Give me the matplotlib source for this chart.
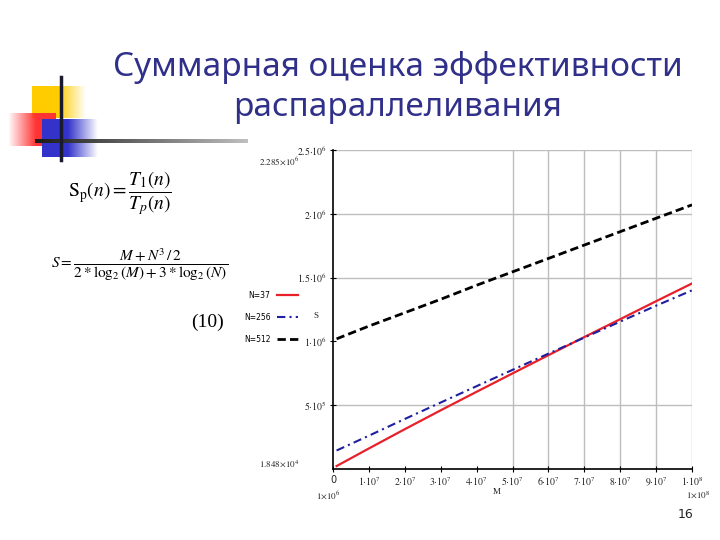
import numpy as np
import matplotlib.pyplot as plt

plt.rcParams["font.family"] = "DejaVu Sans"
plt.rcParams["mathtext.fontset"] = "stix"

# values
m_vals = [1e6, 1e7, 2e7, 3e7, 4e7, 5e7, 6e7, 7e7, 8e7, 9e7, 1e8]
s_n37 = [2.3e4, 1.61e5, 3.12e5, 4.60e5, 6.05e5, 7.49e5, 8.92e5, 1.034e6, 1.174e6, 1.315e6, 1.454e6]
s_n256 = [1.45e5, 2.61e5, 3.92e5, 5.21e5, 6.49e5, 7.77e5, 9.04e5, 1.030e6, 1.155e6, 1.280e6, 1.400e6]
s_n512 = [1.02e6, 1.12e6, 1.225e6, 1.33e6, 1.44e6, 1.545e6, 1.65e6, 1.755e6, 1.86e6, 1.965e6, 2.07e6]
series_labels = ["N=37", "N=256", "N=512"]

x_ticks = [0, 1e7, 2e7, 3e7, 4e7, 5e7, 6e7, 7e7, 8e7, 9e7, 1e8]
x_ticklabels = ["0", r"$1{\cdot}10^7$", r"$2{\cdot}10^7$", r"$3{\cdot}10^7$", r"$4{\cdot}10^7$",
                r"$5{\cdot}10^7$", r"$6{\cdot}10^7$", r"$7{\cdot}10^7$", r"$8{\cdot}10^7$",
                r"$9{\cdot}10^7$", r"$1{\cdot}10^8$"]
y_ticks = [5e5, 1e6, 1.5e6, 2e6, 2.5e6]
y_ticklabels = [r"$5{\cdot}10^5$", r"$1{\cdot}10^6$", r"$1.5{\cdot}10^6$", r"$2{\cdot}10^6$", r"$2.5{\cdot}10^6$"]
x_grid = [5e7, 6e7, 7e7, 8e7, 9e7, 1e8]
y_grid = [5e5, 1.5e6, 2e6, 2.5e6]

fig = plt.figure(figsize=(7.2, 5.4), dpi=100)

# slide background layer in pixel coordinates
bg = fig.add_axes([0, 0, 1, 1], zorder=0)
bg.axis("off")

def fade_box(x0, x1, y0, y1, rgb, solid_from, solid_to):
    xs = np.linspace(x0, x1, 200)
    a = np.ones_like(xs)
    if solid_from > x0:
        a = np.where(xs < solid_from, (xs - x0) / (solid_from - x0), a)
    if solid_to < x1:
        a = np.where(xs > solid_to, 1 - (xs - solid_to) / (x1 - solid_to), a)
    img = np.zeros((1, 200, 4))
    img[..., :3] = rgb
    img[0, :, 3] = np.clip(a, 0, 1)
    bg.imshow(img, extent=(x0, x1, y1, y0), aspect="auto", interpolation="bilinear")

fade_box(32, 86, 86, 118, (1.0, 0.80, 0.0), 32, 58)
fade_box(8, 56, 113, 146, (1.0, 0.2, 0.2), 36, 56)
fade_box(42, 98, 119, 157, (0.2, 0.2, 0.8), 42, 68)

grad = np.zeros((1, 200, 4))
grad[0, :, :3] = np.linspace(0.1, 0.75, 200)[:, None]
grad[0, :, 3] = 1
bg.imshow(grad, extent=(35, 248, 143, 139), aspect="auto")
bg.plot([61, 61], [77, 160], color="#1a1a2e", lw=2.5)
bg.set_xlim(0, 720)
bg.set_ylim(540, 0)

title_color = "#30308a"
bg.text(398, 68, "Суммарная оценка эффективности", ha="center", va="center",
        fontsize=24, color=title_color, family="Noto Sans")
bg.text(398, 108, "распараллеливания", ha="center", va="center",
        fontsize=24, color=title_color, family="Noto Sans")

bg.text(120, 193, r"$\mathrm{S}_{\mathrm{p}}(n)=\dfrac{T_1(n)}{T_p(n)}$", ha="center", va="center", fontsize=14)
bg.text(140, 265, r"$S=\dfrac{M+N^3\,/\,2}{2*\log_2(M)+3*\log_2(N)}$", ha="center", va="center", fontsize=11)
bg.text(208, 322, "(10)", ha="center", va="center", fontsize=14, family="Liberation Serif")
bg.text(686, 514, "16", ha="center", va="center", fontsize=9, color="#222222")

small = dict(fontsize=6.5, family="Liberation Serif", color="#222222")
bg.text(279, 161, r"$2.285{\times}10^6$", ha="center", va="center", **small)
bg.text(279, 464, r"$1.848{\times}10^4$", ha="center", va="center", **small)
bg.text(328, 495, r"$1{\times}10^6$", ha="center", va="center", **small)
bg.text(698, 495, r"$1{\times}10^8$", ha="center", va="center", **small)
bg.text(316, 316, "S", ha="center", va="center", **small)
bg.text(497, 492, "M", ha="center", va="center", **small)

# chart
ax = fig.add_axes([333 / 720, 1 - 469 / 540, (692 - 333) / 720, (469 - 150) / 540], zorder=2)
ax.patch.set_alpha(0)
for yv in y_grid:
    ax.axhline(yv, color="#bdbdbd", lw=1, zorder=1)
for xv in x_grid:
    ax.axvline(xv, color="#bdbdbd", lw=1, zorder=1)

l1, = ax.plot(m_vals, s_n37, color="#e8202a", lw=1.6, zorder=3)
l2, = ax.plot(m_vals, s_n256, color="#1f1fa0", lw=1.5, dashes=(4, 2, 1, 2), zorder=4)
l3, = ax.plot(m_vals, s_n512, color="black", lw=2, dashes=(3, 1.5), zorder=3)

ax.set_xlim(0, 1e8)
ax.set_ylim(0, 2.5e6)
ax.set_xticks(x_ticks)
ax.set_xticklabels(x_ticklabels)
ax.set_yticks(y_ticks)
ax.set_yticklabels(y_ticklabels)
ax.tick_params(direction="inout", length=5, width=0.8, labelsize=7, pad=2)
for lab in ax.get_xticklabels() + ax.get_yticklabels():
    lab.set_color("#222222")
ax.spines["top"].set_visible(False)
ax.spines["right"].set_visible(False)
ax.spines["left"].set_linewidth(1.2)
ax.spines["bottom"].set_linewidth(1.2)

ax.legend([l1, l2, l3], series_labels, loc="upper left",
          bbox_to_anchor=(240 / 720, 1 - 287 / 540), bbox_transform=fig.transFigure,
          markerfirst=False, frameon=False, fontsize=5.5, handlelength=2.8,
          labelspacing=1.7, handletextpad=0.8, borderpad=0)

fig.savefig("out.png", dpi=100)
